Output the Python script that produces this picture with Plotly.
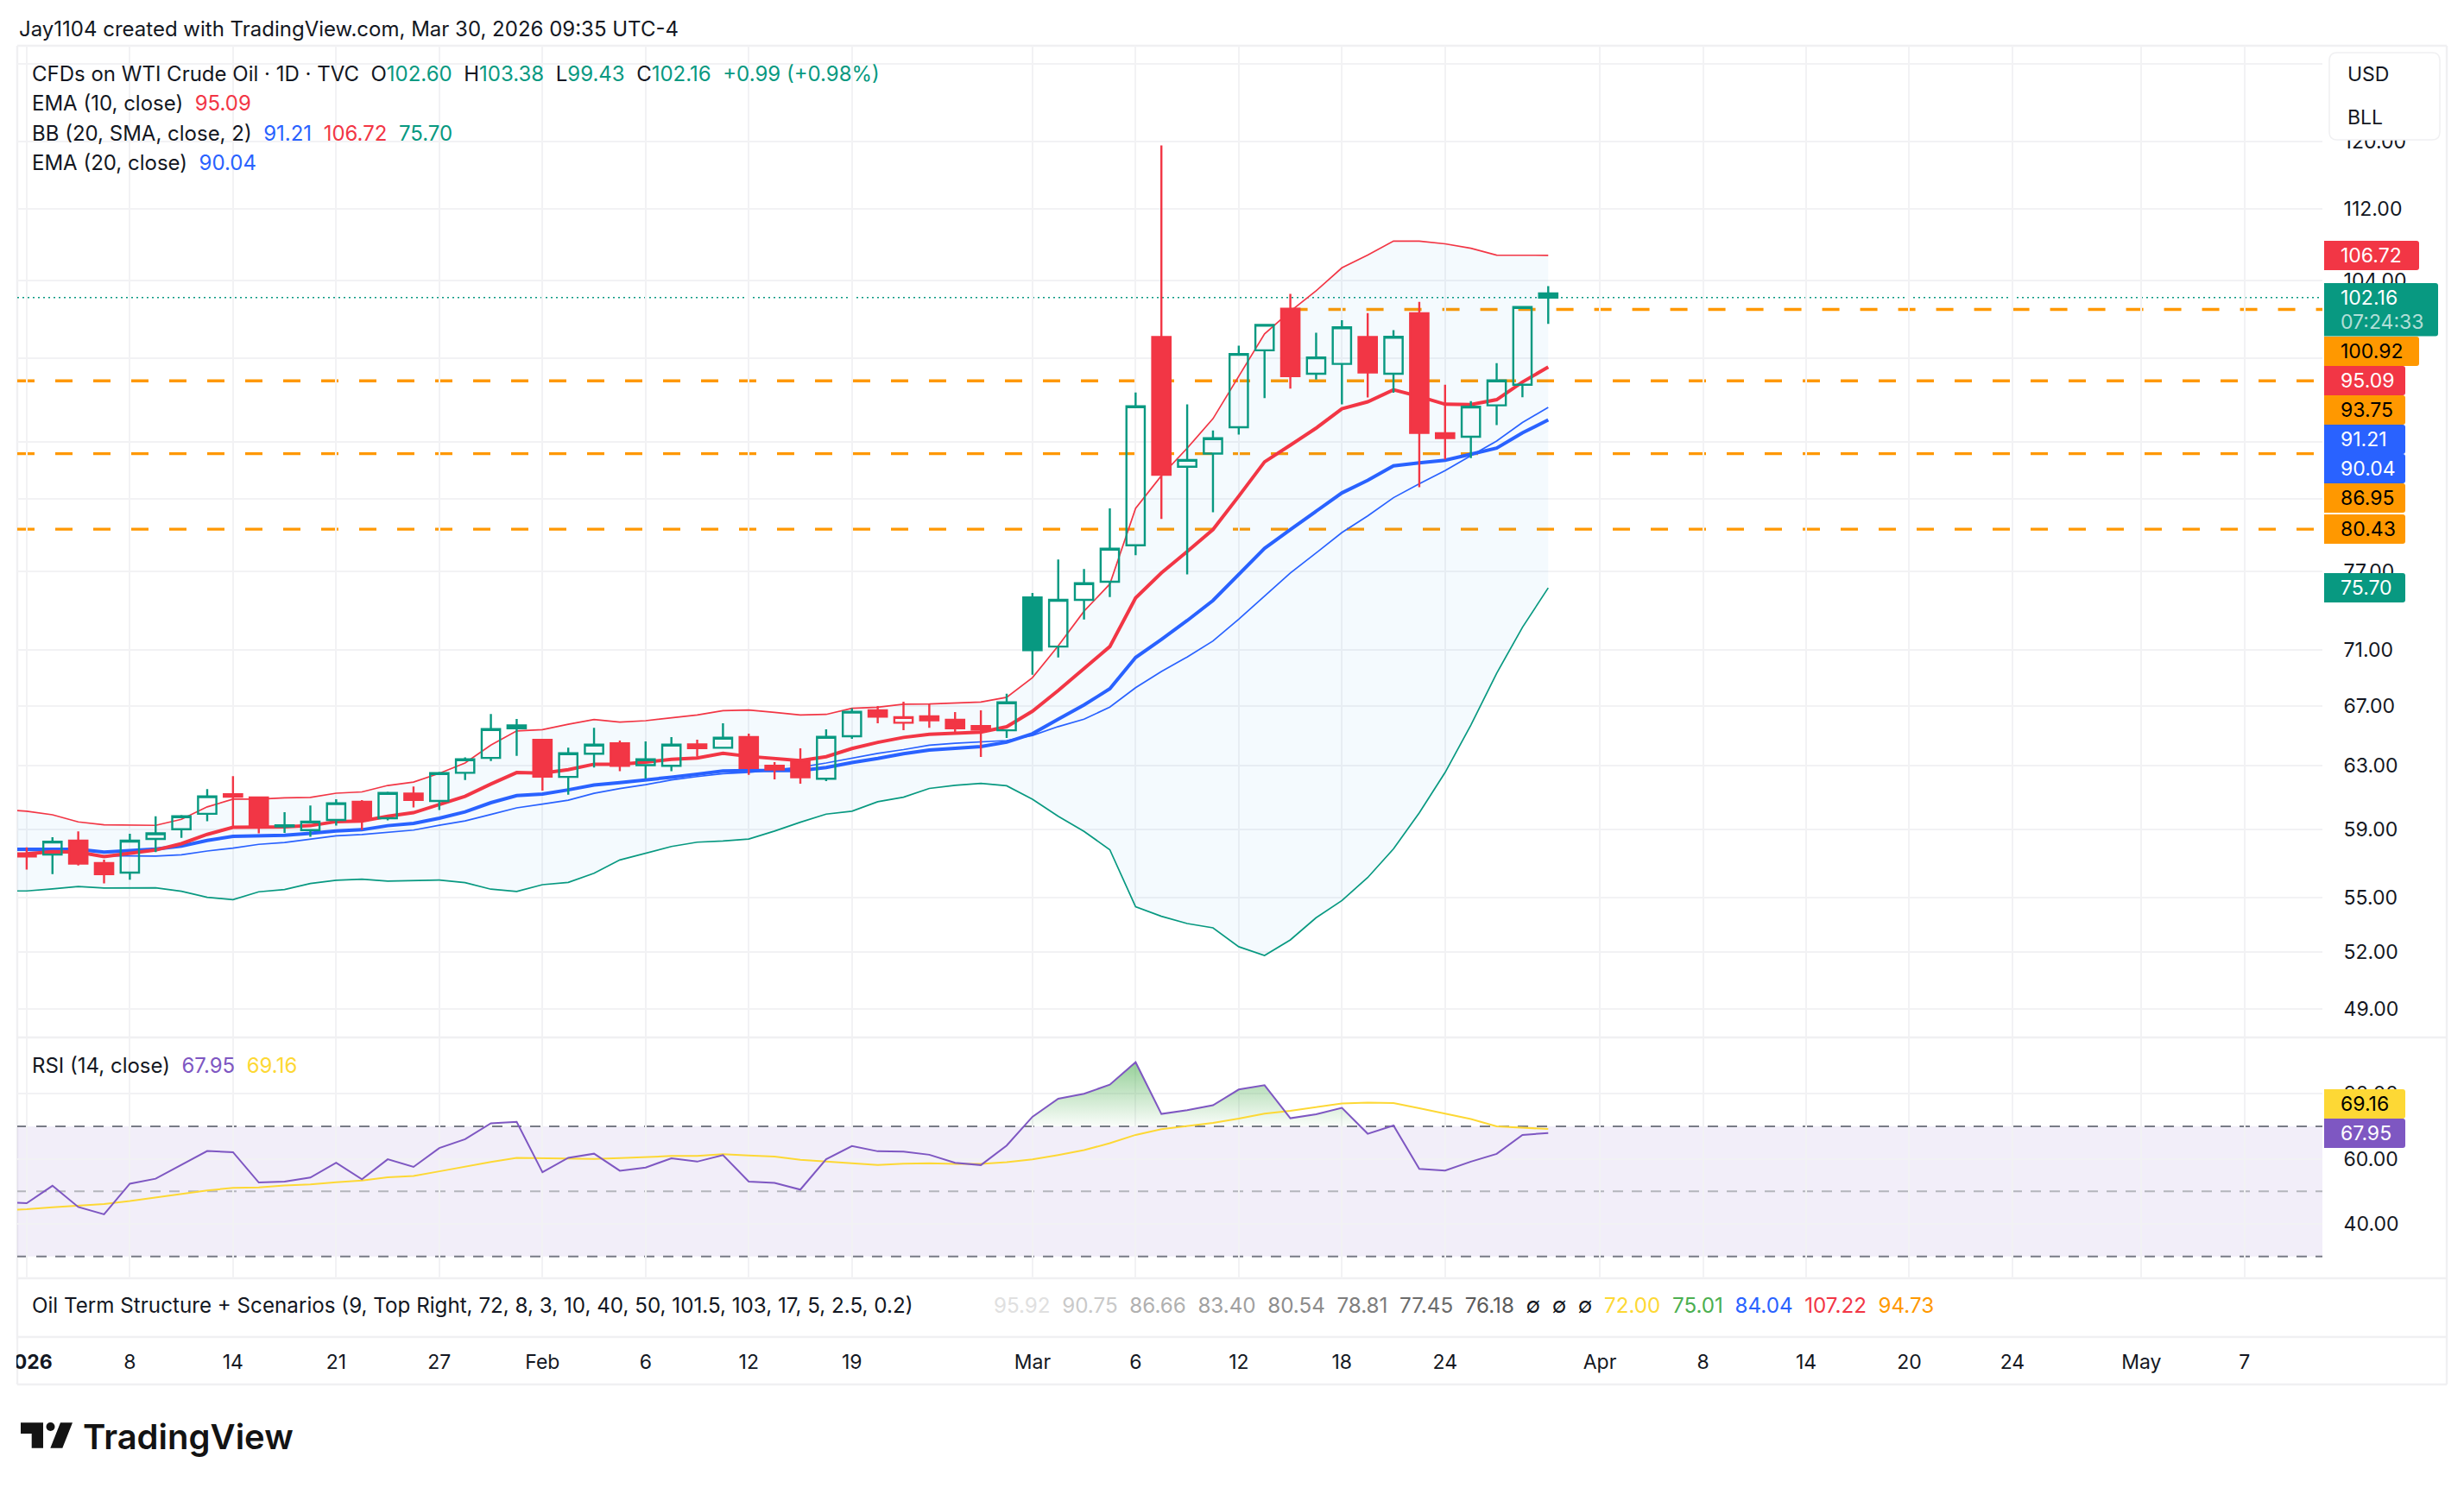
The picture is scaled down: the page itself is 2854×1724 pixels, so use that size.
import plotly.graph_objects as go

W = 2854
H = 1724
FONT = "Inter"
INK = "#131722"
GRID = "#f2f2f4"
RED = "#f23645"
GREEN = "#089981"
BLUE = "#2962ff"
ORANGE = "#ff9800"
PURPLE = "#7e57c2"
YELLOW = "#fdd835"

# Daily candles, Jan 2 to Mar 30 2026 (one row per trading day)
opens = [57.45, 57.48, 58.31, 56.98, 56.42, 58.41, 59.00, 59.95, 61.18, 60.97,
         59.17, 58.95, 59.57, 60.70, 59.68, 61.22, 60.75, 62.54, 63.51, 65.68,
         64.70, 62.28, 63.79, 64.47, 63.04, 63.00, 64.41, 64.18, 64.89, 63.00,
         63.34, 62.16, 64.95, 66.71, 65.86, 66.30, 66.06, 65.64, 65.35, 74.95,
         71.25, 74.77, 76.18, 79.11, 98.08, 85.79, 86.96, 89.36, 96.75, 100.99,
         94.43, 95.40, 98.08, 94.43, 100.53, 88.80, 88.49, 91.40, 93.37, 102.60]
highs = [57.91, 58.52, 58.87, 57.18, 58.73, 59.79, 59.88, 61.50, 62.33, 61.00,
         60.05, 60.46, 60.86, 60.81, 61.34, 61.67, 62.60, 63.55, 66.45, 66.12,
         64.70, 64.18, 65.52, 64.66, 64.60, 64.89, 64.72, 65.82, 65.12, 63.23,
         64.15, 65.41, 66.85, 67.00, 67.30, 67.13, 66.59, 66.71, 67.87, 75.30,
         77.95, 77.19, 82.17, 92.62, 119.54, 91.50, 89.07, 97.22, 99.40, 102.55,
         98.51, 99.81, 100.53, 98.79, 101.70, 93.37, 91.81, 95.48, 101.19, 103.38]
lows = [56.59, 56.33, 56.84, 55.79, 56.00, 57.62, 58.48, 59.49, 59.13, 58.75,
        58.78, 58.55, 59.22, 58.96, 59.54, 60.34, 60.18, 62.08, 63.31, 63.65,
        61.40, 61.15, 62.88, 62.64, 62.17, 62.64, 63.59, 64.18, 62.41, 62.12,
        61.84, 62.01, 64.77, 65.82, 65.35, 65.52, 65.21, 63.57, 64.83, 69.21,
        70.45, 73.27, 74.98, 78.30, 81.29, 76.76, 81.85, 88.69, 92.09, 92.99,
        93.86, 91.50, 92.15, 92.60, 84.00, 86.45, 86.56, 89.56, 92.18, 99.43]
closes = [57.37, 58.25, 56.94, 56.33, 58.31, 58.75, 59.80, 61.04, 61.02, 59.13,
          59.24, 59.47, 60.61, 59.61, 61.25, 60.82, 62.52, 63.42, 65.43, 65.49,
          62.30, 63.82, 64.39, 62.99, 63.42, 64.39, 64.16, 64.85, 62.86, 62.75,
          62.25, 64.91, 66.61, 66.28, 66.24, 66.02, 65.49, 65.39, 67.26, 70.98,
          74.77, 76.06, 78.82, 91.31, 85.08, 86.39, 88.35, 96.38, 99.32, 94.21,
          96.04, 99.07, 94.55, 98.11, 88.84, 88.37, 91.28, 93.78, 101.17, 102.16]

# Indicators start one bar earlier (Dec 31), that bar is cut off by the left edge
ema10 = [57.50, 57.52, 57.65, 57.62, 57.36, 57.58, 57.75, 58.13, 58.69, 59.12, 59.13,
         59.15, 59.22, 59.47, 59.50, 59.80, 60.02, 60.50, 61.04, 61.82, 62.56,
         62.52, 62.75, 63.10, 63.10, 63.23, 63.42, 63.50, 63.82, 63.61, 63.48,
         63.34, 63.59, 64.13, 64.54, 64.87, 65.08, 65.18, 65.23, 65.59, 66.65,
         68.09, 69.62, 71.25, 74.92, 76.88, 78.60, 80.40, 83.22, 86.22, 87.72,
         89.28, 91.08, 91.74, 92.88, 92.24, 91.51, 91.48, 91.94, 93.63, 95.09]
ema20 = [57.79, 57.79, 57.82, 57.79, 57.62, 57.69, 57.80, 57.99, 58.32, 58.57, 58.59,
         58.64, 58.75, 58.90, 58.97, 59.22, 59.36, 59.68, 60.07, 60.64, 61.09,
         61.18, 61.45, 61.76, 61.91, 62.06, 62.26, 62.45, 62.66, 62.69, 62.71,
         62.69, 62.88, 63.21, 63.48, 63.79, 64.03, 64.16, 64.26, 64.55, 65.12,
         66.10, 67.08, 68.21, 70.45, 71.78, 73.19, 74.72, 76.76, 78.85, 80.40,
         81.93, 83.50, 84.59, 85.87, 86.14, 86.36, 86.90, 87.45, 88.84, 90.04]
bb_basis = [57.78, 57.73, 57.68, 57.53, 57.40, 57.40, 57.39, 57.47, 57.69, 57.86, 58.09,
            58.20, 58.38, 58.60, 58.68, 58.82, 58.95, 59.25, 59.51, 59.91, 60.32,
            60.55, 60.80, 61.23, 61.53, 61.78, 62.08, 62.30, 62.49, 62.57, 62.73,
            62.91, 63.18, 63.48, 63.81, 64.06, 64.35, 64.48, 64.57, 64.66, 65.00,
            65.60, 66.10, 66.93, 68.29, 69.44, 70.49, 71.66, 73.30, 75.08, 76.88,
            78.48, 80.15, 81.54, 83.09, 84.30, 85.44, 86.77, 88.10, 89.80, 91.21]
bb_upper = [60.22, 60.11, 59.89, 59.45, 59.27, 59.27, 59.24, 59.61, 60.38, 60.86, 60.87,
            60.95, 60.97, 61.24, 61.32, 61.73, 61.95, 62.51, 63.18, 64.36, 65.31,
            65.39, 65.76, 66.08, 65.90, 66.00, 66.20, 66.39, 66.69, 66.73, 66.57,
            66.39, 66.43, 66.85, 66.93, 67.13, 67.15, 67.22, 67.28, 67.61, 69.00,
            71.30, 73.90, 76.00, 82.18, 85.00, 87.45, 90.15, 94.21, 98.40, 100.73,
            102.88, 105.35, 106.74, 108.30, 108.30, 107.99, 107.50, 106.74, 106.70, 106.72]
bb_lower = [55.36, 55.36, 55.48, 55.61, 55.53, 55.54, 55.54, 55.34, 55.00, 54.86, 55.31,
            55.44, 55.79, 55.97, 56.04, 55.92, 55.94, 55.99, 55.84, 55.46, 55.33,
            55.72, 55.85, 56.38, 57.16, 57.57, 57.96, 58.22, 58.29, 58.41, 58.89,
            59.43, 59.93, 60.11, 60.70, 60.99, 61.54, 61.74, 61.86, 61.71, 60.86,
            59.80, 58.87, 57.77, 54.46, 53.93, 53.53, 53.29, 52.26, 51.79, 52.63,
            53.85, 54.81, 56.13, 57.82, 60.01, 62.56, 65.70, 69.31, 72.68, 75.70]

rsi = [46.74, 46.38, 51.72, 45.20, 42.94, 52.35, 53.89, 58.05, 62.40, 62.04, 52.71,
       52.99, 54.25, 58.78, 53.71, 59.86, 57.51, 63.30, 66.02, 70.90, 71.36,
       55.88, 60.32, 61.58, 56.33, 57.33, 60.14, 59.14, 61.13, 52.99, 52.62,
       50.54, 59.86, 63.94, 62.32, 62.23, 61.26, 58.79, 58.08, 64.08, 72.91,
       78.48, 79.98, 82.80, 89.69, 73.80, 74.94, 76.45, 81.30, 82.63, 72.47,
       73.71, 75.65, 67.70, 70.26, 56.93, 56.40, 59.14, 61.52, 67.35, 67.95]
rsi_ma = [44.12, 44.48, 45.11, 45.57, 46.11, 47.01, 48.10, 49.19, 50.27, 51.09, 51.18,
          51.81, 52.17, 52.81, 53.35, 54.34, 54.71, 56.15, 57.69, 59.05, 60.32,
          60.14, 59.95, 59.95, 60.23, 60.50, 60.86, 60.86, 61.40, 61.04, 60.68,
          59.68, 59.14, 58.69, 58.08, 58.52, 58.61, 58.43, 58.43, 58.96, 59.85,
          61.17, 62.67, 64.79, 67.35, 69.12, 70.18, 71.06, 72.38, 73.89, 74.77,
          75.83, 76.98, 77.24, 77.15, 75.56, 73.97, 72.21, 70.00, 69.65, 69.16]

# Dashed levels and where each one starts (bar number, None = left edge)
level_prices = [100.92, 93.75, 86.95, 80.43]
level_starts = [49, None, None, None]
last_price = 102.16

price_ticks = [49, 52, 55, 59, 63, 67, 71, 77, 83, 88, 96, 104, 112, 120, 130]
rsi_ticks = [40, 60, 80]
date_ticks = [0, 4, 8, 12, 16, 20, 24, 28, 32, 39, 43, 47, 51, 55, 61, 65, 69, 73, 77, 82, 86]
date_labels = ["<b>2026</b>", "8", "14", "21", "27", "Feb", "6", "12", "19", "Mar", "6", "12",
               "18", "24", "Apr", "8", "14", "20", "24", "May", "7"]

oil_values = ["95.92", "90.75", "86.66", "83.40", "80.54", "78.81", "77.45", "76.18",
              "∅", "∅", "∅", "72.00", "75.01", "84.04", "107.22", "94.73"]
oil_colors = ["#e0e0e0", "#c9c9c9", "#b0b0b0", "#a0a0a0", "#8c8c8c", "#7d7d7d", "#6b6b6b", "#5a5a5a",
              INK, INK, INK, YELLOW, "#4caf50", BLUE, RED, ORANGE]

bars = list(range(len(closes)))
line_bars = list(range(-1, len(closes)))
x_left = -0.365
x_right = 89.02


def px(x):
    return x / W


def py(y):
    return 1 - y / H


def span(text, color):
    return f'<span style="color:{color}">{text}</span>'


def over_polygons(xvals, vals, level):
    # outline of the parts of the RSI above the level, for the green fill
    xs, ys = [], []
    i = 0
    while i < len(vals):
        if vals[i] <= level:
            i += 1
            continue
        j = i
        while j + 1 < len(vals) and vals[j + 1] > level:
            j += 1
        start = xvals[i] - (vals[i] - level) / (vals[i] - vals[i - 1])
        end = xvals[j] + (vals[j] - level) / (vals[j] - vals[j + 1])
        xs += [start] + xvals[i:j + 1] + [end, None]
        ys += [level] + vals[i:j + 1] + [level, None]
        i = j + 1
    return xs, ys


fig = go.Figure()


def add_line(values, color, width, fill=None, fillcolor=None):
    fig.add_trace(go.Scatter(x=line_bars, y=values, mode="lines", fill=fill, fillcolor=fillcolor,
                             line=dict(color=color, width=width, shape="linear"),
                             hoverinfo="skip", showlegend=False, xaxis="x", yaxis="y"))


add_line(bb_upper, RED, 1.7)
add_line(bb_lower, GREEN, 1.7, fill="tonexty", fillcolor="rgba(33,150,243,0.05)")
add_line(bb_basis, BLUE, 1.7)
add_line(ema20, BLUE, 4)
add_line(ema10, RED, 4)


def add_candles(picked, color, hollow):
    if not picked:
        return
    fill = "rgba(0,0,0,0)" if hollow else color
    style = dict(line=dict(color=color, width=2.4), fillcolor=fill)
    fig.add_trace(go.Candlestick(
        x=picked,
        open=[opens[i] for i in picked],
        high=[highs[i] for i in picked],
        low=[lows[i] for i in picked],
        close=[closes[i] for i in picked],
        increasing=style, decreasing=style,
        whiskerwidth=0, zorder=5, hoverinfo="skip", showlegend=False,
        xaxis="x", yaxis="y"))


# Hollow = close above open, colour = close against the previous close
is_up = [i > 0 and closes[i] >= closes[i - 1] for i in bars]
is_hollow = [closes[i] >= opens[i] for i in bars]
add_candles([i for i in bars if is_hollow[i] and is_up[i]], GREEN, True)
add_candles([i for i in bars if is_hollow[i] and not is_up[i]], RED, True)
add_candles([i for i in bars if not is_hollow[i] and is_up[i]], GREEN, False)
add_candles([i for i in bars if not is_hollow[i] and not is_up[i]], RED, False)

over_x, over_y = over_polygons(line_bars, rsi, 70)
fig.add_trace(go.Scatter(x=over_x, y=over_y, mode="lines", fill="toself", line=dict(width=0),
                         fillgradient=dict(type="vertical", start=70, stop=90,
                                           colorscale=[[0, "rgba(76,175,80,0.03)"],
                                                       [1, "rgba(76,175,80,0.6)"]]),
                         hoverinfo="skip", showlegend=False, xaxis="x2", yaxis="y2"))
fig.add_trace(go.Scatter(x=line_bars, y=rsi_ma, mode="lines", line=dict(color=YELLOW, width=2),
                         hoverinfo="skip", showlegend=False, xaxis="x2", yaxis="y2"))
fig.add_trace(go.Scatter(x=line_bars, y=rsi, mode="lines", line=dict(color=PURPLE, width=2),
                         hoverinfo="skip", showlegend=False, xaxis="x2", yaxis="y2"))

# Price levels
for price, start in zip(level_prices, level_starts):
    fig.add_shape(type="line", xref="x", yref="y", layer="below",
                  x0=x_left if start is None else start, x1=x_right, y0=price, y1=price,
                  line=dict(color=ORANGE, width=3.4, dash="20px,24px"))
fig.add_shape(type="line", xref="x", yref="y", layer="below", x0=x_left, x1=x_right,
              y0=last_price, y1=last_price, line=dict(color=GREEN, width=1.6, dash="2px,4px"))

# RSI band
fig.add_shape(type="rect", xref="x2", yref="y2", layer="below", x0=x_left, x1=x_right, y0=30, y1=70,
              fillcolor="rgba(126,87,194,0.1)", line=dict(width=0))
for level, color in [(70, "#787b86"), (50, "#b4b5bc"), (30, "#787b86")]:
    fig.add_shape(type="line", xref="x2", yref="y2", layer="below", x0=x_left, x1=x_right,
                  y0=level, y1=level, line=dict(color=color, width=2, dash="12px,10px"))

# Frame around the panes
for x0, y0, x1, y1 in [(20, 53, 2834, 53), (20, 1202, 2834, 1202), (20, 1481, 2834, 1481),
                       (20, 1549, 2834, 1549), (20, 1604, 2834, 1604),
                       (20, 53, 20, 1604), (2834, 53, 2834, 1604)]:
    fig.add_shape(type="line", xref="paper", yref="paper", layer="below",
                  x0=px(x0), x1=px(x1), y0=py(y0), y1=py(y1), line=dict(color="#f0f0f2", width=2.4))

# The first date label is cut off by the left edge
fig.add_shape(type="rect", xref="paper", yref="paper", layer="above",
              x0=0, x1=px(19), y0=py(1552), y1=py(1602), fillcolor="white", line=dict(width=0))


def note(x, y, text, size=24, color=INK, weight=None):
    fig.add_annotation(xref="paper", yref="paper", x=px(x), y=py(y), text=text, showarrow=False,
                       xanchor="left", yanchor="middle", align="left",
                       font=dict(family=FONT, size=size, color=color, weight=weight))


def tag(y0, y1, right, fill, text, color, text_y=None):
    fig.add_shape(type="path", xref="paper", yref="paper", layer="above",
                  path=f"M{px(2692)},{py(y0)} L{px(right - 3)},{py(y0)} Q{px(right)},{py(y0)} {px(right)},{py(y0 + 3)} "
                       f"L{px(right)},{py(y1 - 3)} Q{px(right)},{py(y1)} {px(right - 3)},{py(y1)} L{px(2692)},{py(y1)} Z",
                  fillcolor=fill, line=dict(width=0))
    note(2709, text_y or (y0 + y1) / 2, text, size=23, color=color)


# Value tags on the price scale, stacked as TradingView stacks them
tag(279, 313, 2802, RED, "106.72", "white")
tag(328, 389.5, 2824, GREEN, "102.16", "white", text_y=345)
note(2709, 372.6, "07:24:33", size=23, color="rgba(255,255,255,0.7)")
tag(390, 424, 2802, ORANGE, "100.92", "black")
tag(424, 458, 2786, RED, "95.09", "white")
tag(458, 492, 2786, ORANGE, "93.75", "black")
tag(492, 526, 2786, BLUE, "91.21", "white")
tag(526, 560, 2786, BLUE, "90.04", "white")
tag(560, 594, 2786, ORANGE, "86.95", "black")
tag(596, 630, 2786, ORANGE, "80.43", "black")
tag(664, 698, 2786, GREEN, "75.70", "white")
tag(1262, 1296, 2786, YELLOW, "69.16", "black")
tag(1296, 1330, 2786, "#7e57c2", "67.95", "white")

# USD / BLL unit box
r = 9
fig.add_shape(type="path", xref="paper", yref="paper", layer="above",
              path=f"M{px(2698 + r)},{py(61)} L{px(2826 - r)},{py(61)} Q{px(2826)},{py(61)} {px(2826)},{py(61 + r)} "
                   f"L{px(2826)},{py(162 - r)} Q{px(2826)},{py(162)} {px(2826 - r)},{py(162)} "
                   f"L{px(2698 + r)},{py(162)} Q{px(2698)},{py(162)} {px(2698)},{py(162 - r)} "
                   f"L{px(2698)},{py(61 + r)} Q{px(2698)},{py(61)} {px(2698 + r)},{py(61)} Z",
              fillcolor="white", line=dict(color="#f0f0f2", width=1.6))
note(2717, 86, "USD", size=23)
note(2717, 136, "BLL", size=23)

# Header and legends
sp = "&nbsp;&nbsp;"
note(20, 33, "Jay1104 created with TradingView.com, Mar 30, 2026 09:35 UTC-4")
note(35, 86, "CFDs on WTI Crude Oil · 1D · TVC" + sp + "O" + span("102.60", GREEN) + sp + "H" + span("103.38", GREEN)
     + sp + "L" + span("99.43", GREEN) + sp + "C" + span("102.16", GREEN) + sp + span("+0.99 (+0.98%)", GREEN))
note(35, 120, "EMA (10, close)" + sp + span("95.09", RED))
note(35, 154, "BB (20, SMA, close, 2)" + sp + span("91.21", BLUE) + sp + span("106.72", RED) + sp + span("75.70", GREEN))
note(35, 188, "EMA (20, close)" + sp + span("90.04", BLUE))
note(35, 1234, "RSI (14, close)" + sp + span("67.95", PURPLE) + sp + span("69.16", YELLOW))
note(35, 1512, "Oil Term Structure + Scenarios (9, Top Right, 72, 8, 3, 10, 40, 50, 101.5, 103, 17, 5, 2.5, 0.2)", size=24.2)
note(1149, 1512, sp.join(span(v, c) for v, c in zip(oil_values, oil_colors)), size=24.2)

# TradingView logo and wordmark
fig.add_shape(type="path", xref="paper", yref="paper", layer="above", fillcolor="#131313", line=dict(width=0),
              path=f"M{px(24)},{py(1648.3)} L{px(50)},{py(1648.3)} L{px(50)},{py(1677.7)} L{px(36.7)},{py(1677.7)} "
                   f"L{px(36.7)},{py(1661)} L{px(24)},{py(1661)} Z")
fig.add_shape(type="path", xref="paper", yref="paper", layer="above", fillcolor="#131313", line=dict(width=0),
              path=f"M{px(70)},{py(1648.3)} L{px(84)},{py(1648.3)} L{px(72.3)},{py(1677.7)} L{px(58.3)},{py(1677.7)} Z")
fig.add_shape(type="circle", xref="paper", yref="paper", layer="above", fillcolor="#131313", line=dict(width=0),
              x0=px(53.5), x1=px(63.5), y0=py(1648), y1=py(1658))
note(94, 1664, "TradingView", size=40, color="#131313", weight=600)

axis_style = dict(showgrid=True, gridcolor=GRID, gridwidth=2, zeroline=False, automargin=False,
                  tickmode="array", tickfont=dict(size=23, color=INK))

fig.update_layout(
    width=W, height=H, margin=dict(l=0, r=0, t=0, b=0, pad=0, autoexpand=False),
    paper_bgcolor="white", plot_bgcolor="white",
    font=dict(family=FONT, size=23, color=INK),
    boxgap=0.21, boxgroupgap=0.1, boxmode="overlay", showlegend=False,
    xaxis=dict(domain=[px(20), px(2690)], range=[x_left, x_right], anchor="y",
               tickvals=date_ticks, showticklabels=False, ticks="",
               rangeslider=dict(visible=False), **axis_style),
    yaxis=dict(domain=[py(1201), py(53)], type="log", range=[1.67788, 2.12222], anchor="x", side="right",
               tickvals=price_ticks, ticktext=[f"{t:.2f}" for t in price_ticks],
               ticks="outside", ticklen=19, tickcolor="rgba(0,0,0,0)", **axis_style),
    xaxis2=dict(domain=[px(20), px(2690)], range=[x_left, x_right], anchor="y2", matches="x",
                tickvals=date_ticks, ticktext=date_labels,
                ticks="outside", ticklen=76, tickcolor="rgba(0,0,0,0)", tickangle=0, **axis_style),
    yaxis2=dict(domain=[py(1481), py(1202)], range=[23.29, 97.3], anchor="x2", side="right",
                tickvals=rsi_ticks, ticktext=[f"{t:.2f}" for t in rsi_ticks],
                ticks="outside", ticklen=19, tickcolor="rgba(0,0,0,0)", **axis_style),
)

# The page adds a default margin around the plot
fig.write_html("out.html", config={"displayModeBar": False},
               post_script="document.body.style.margin = '0';")
